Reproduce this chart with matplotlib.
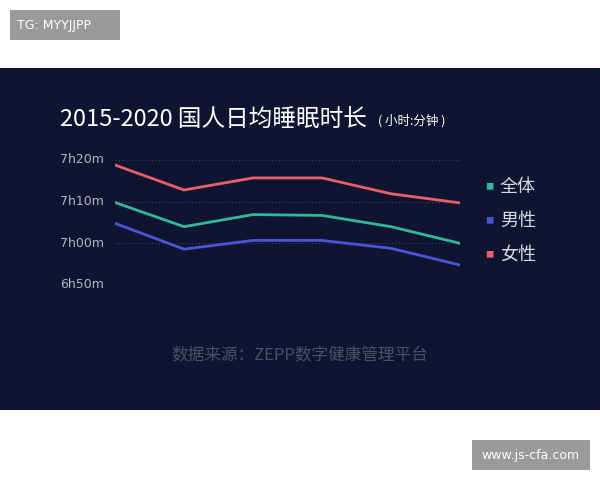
import matplotlib
matplotlib.use("Agg")
import matplotlib.pyplot as plt
from matplotlib.patches import Rectangle

plt.rcParams["font.family"] = ["Noto Sans CJK SC", "DejaVu Sans"]

years = [2015, 2016, 2017, 2018, 2019, 2020]
overall = [429.8, 424.0, 426.9, 426.7, 424.0, 420.0]
male = [424.8, 418.6, 420.7, 420.7, 418.8, 414.8]
female = [438.8, 432.8, 435.7, 435.7, 431.9, 429.7]
yticks = [410, 420, 430, 440]
ytick_labels = ["6h50m", "7h00m", "7h10m", "7h20m"]
series_names = ["全体", "男性", "女性"]
colors = ["#2fb89a", "#4a55d8", "#e8606a"]

W, H = 600, 480
fig = plt.figure(figsize=(6, 4.8), dpi=100)
fig.patch.set_facecolor("white")
fig.patches.append(Rectangle((0, 1 - 410 / H), 1, (410 - 68) / H, transform=fig.transFigure,
                             facecolor="#0f1530", edgecolor="none", zorder=-10))
# watermarks
fig.patches.append(Rectangle((10 / W, 1 - 40 / H), 110 / W, 30 / H, transform=fig.transFigure,
                             facecolor="#9a9a9a", edgecolor="none", zorder=-10))
fig.text(17 / W, 1 - 25 / H, "TG: MYYJJPP", color="white", fontsize=9, va="center", family="DejaVu Sans")
fig.patches.append(Rectangle((472 / W, 1 - 470 / H), 118 / W, 30 / H, transform=fig.transFigure,
                             facecolor="#9a9a9a", edgecolor="none", zorder=-10))
fig.text(531 / W, 1 - 455 / H, "www.js-cfa.com", color="white", fontsize=9, va="center", ha="center",
         family="DejaVu Sans")

ax = fig.add_axes([115 / W, 1 - 285 / H, 345 / W, 125 / H])
ax.set_zorder(5)
ax.set_facecolor("none")
ax.patch.set_alpha(0)
ax.set_xlim(0, len(years) - 1)
ax.set_ylim(410, 440)
for s in ax.spines.values():
    s.set_visible(False)
ax.set_xticks([])
ax.set_yticks(yticks)
ax.set_yticklabels([])
ax.tick_params(length=0)
for t in yticks:
    ax.axhline(t, color="#3a4260", lw=0.8, ls=(0, (1, 2)), zorder=1)
x = list(range(len(years)))
for vals, c in zip([overall, male, female], colors):
    ax.plot(x, vals, color=c, lw=2, zorder=3)

for t, lab in zip(yticks, ytick_labels):
    yfig = (1 - 285 / H) + (t - 410) / 30 * 125 / H
    fig.text(60 / W, yfig, lab, color="#b0b4c4", fontsize=9, va="center", family="DejaVu Sans")

fig.text(60 / W, 1 - 120 / H, "2015-2020 国人日均睡眠时长", color="white", fontsize=17, va="center")
fig.text(378 / W, 1 - 121 / H, "( 小时:分钟 )", color="white", fontsize=9, va="center")

for i, (n, c) in enumerate(zip(series_names, colors)):
    yy = 1 - (187 + i * 34) / H
    fig.text(485 / W, yy, "■", color=c, fontsize=6, va="center")
    fig.text(500 / W, yy, n, color="#d8dae4", fontsize=13, va="center")

fig.text(300 / W, 1 - 356 / H, "数据来源：ZEPP数字健康管理平台", color="#4a5068", fontsize=12,
         va="center", ha="center")

fig.savefig("out.png", dpi=100, facecolor="white")
